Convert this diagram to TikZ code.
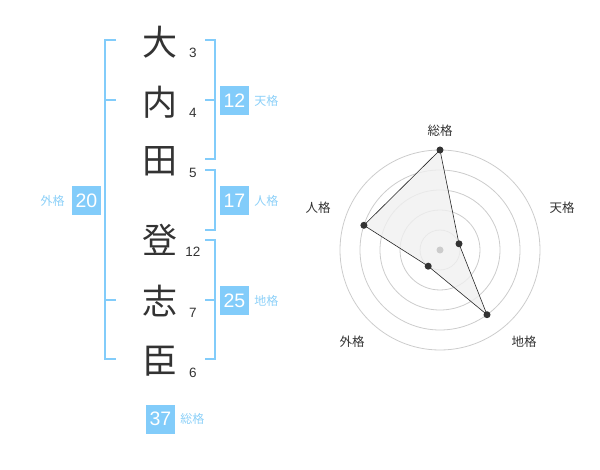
\documentclass[tikz,border=0pt]{standalone}
\usepackage{fontspec}
\usetikzlibrary{positioning}
\setmainfont{Liberation Sans}
\newfontfamily\jpfont{Noto Sans CJK JP}
\definecolor{kakublue}{RGB}{130,204,250}
\definecolor{kakulabel}{RGB}{140,208,248}
\definecolor{kakuink}{RGB}{51,51,51}
\definecolor{kakuring}{RGB}{204,204,204}

\begin{document}
\begin{tikzpicture}[x=1pt, y=-1pt,
    kanji/.style={inner sep=0pt, text=kakuink, font=\jpfont\fontsize{35}{35}\selectfont},
    stroke/.style={inner sep=0pt, text=kakuink, font=\fontsize{13.5}{14}\selectfont},
    kakubox/.style={fill=kakublue, text=white, minimum size=29pt, inner sep=0pt, font=\fontsize{19.5}{20}\selectfont},
    kakuname/.style={inner sep=0pt, text=kakulabel, font=\jpfont\fontsize{12}{12}\selectfont},
    bracket/.style={draw=kakublue, line width=1.6pt},
    ring/.style={draw=kakuring, line width=0.8pt},
    axisname/.style={inner sep=0pt, text=kakuink, font=\jpfont\fontsize{12.5}{13}\selectfont},
    vertex/.style={circle, fill=kakuink, inner sep=0pt, minimum size=7pt}]
            \useasboundingbox (0,0) rectangle (600,470);

            % name
            \node[kanji] (k1) at (160,42) {大};
            \node[kanji] (k2) at (160,102) {内};
            \node[kanji] (k3) at (160,161) {田};
            \node[kanji] (k4) at (160,240) {登};
            \node[kanji] (k5) at (160,301) {志};
            \node[kanji] (k6) at (160,361) {臣};
            \node[stroke] (s1) at (193,53) {3};
            \node[stroke] (s2) at (193,113) {4};
            \node[stroke] (s3) at (193,173) {5};
            \node[stroke] (s4) at (193,252) {12};
            \node[stroke] (s5) at (193,313) {7};
            \node[stroke] (s6) at (193,373) {6};

            % brackets
            \draw[bracket] (116,40) -- (105,40) -- (105,359) -- (116,359);
            \draw[bracket] (105,100) -- (116,100);
            \draw[bracket] (105,300) -- (116,300);
            \draw[bracket] (205,40) -- (215,40) -- (215,159) -- (205,159);
            \draw[bracket] (205,100) -- (215,100);
            \draw[bracket] (205,170) -- (215,170) -- (215,230) -- (205,230);
            \draw[bracket] (205,240) -- (215,240) -- (215,359) -- (205,359);
            \draw[bracket] (205,300) -- (215,300);

            % totals
            \node[kakubox] (ten) at (234.5,100.5) {12};
            \node[kakuname, right=5pt of ten] {天格};
            \node[kakubox] (jin) at (234.5,200.5) {17};
            \node[kakuname, right=5pt of jin] {人格};
            \node[kakubox] (chi) at (234.5,300.5) {25};
            \node[kakuname, right=5pt of chi] {地格};
            \node[kakubox] (gai) at (86.5,200.5) {20};
            \node[kakuname, left=7pt of gai] {外格};
            \node[kakubox] (sou) at (160.5,419) {37};
            \node[kakuname, right=5pt of sou] {総格};

            % chart
            \coordinate (c) at (440,250);
            \draw[ring] (c) circle (20);
            \draw[ring] (c) circle (40);
            \draw[ring] (c) circle (60);
            \draw[ring] (c) circle (80);
            \draw[ring] (c) circle (100);

            \coordinate (p1) at (440,150);
            \coordinate (p2) at (459,243.8);
            \coordinate (p3) at (487,314.7);
            \coordinate (p4) at (428.2,266.2);
            \coordinate (p5) at (363.9,225.3);
            \draw[fill=black!6, fill opacity=0.8, draw=black!85, line width=0.6pt] (p1) -- (p2) -- (p3) -- (p4) -- (p5) -- cycle;
            \fill[kakuring] (c) circle (3.5);
            \node[vertex] at (p1) {};
            \node[vertex] at (p2) {};
            \node[vertex] at (p3) {};
            \node[vertex] at (p4) {};
            \node[vertex] at (p5) {};

            \node[axisname] at (440,131) {総格};
            \node[axisname] at (562,208) {天格};
            \node[axisname] at (524,342) {地格};
            \node[axisname] at (352,342) {外格};
            \node[axisname] at (318,208) {人格};
        \end{tikzpicture}
\end{document}
